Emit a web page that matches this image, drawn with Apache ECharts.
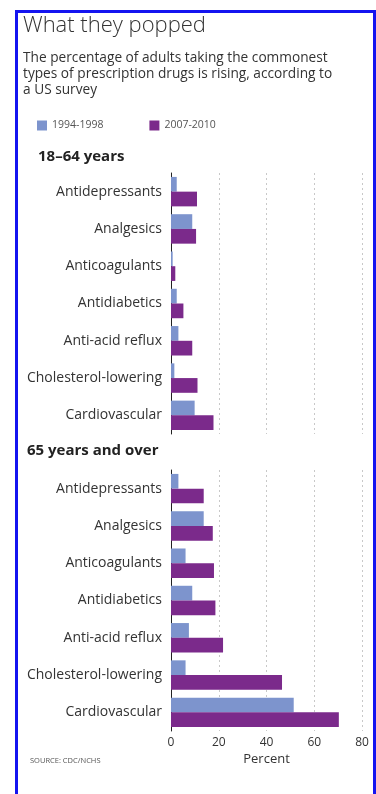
<!DOCTYPE html>
<html>
<head>
<meta charset="utf-8">
<script src="https://cdn.jsdelivr.net/npm/echarts@6/dist/echarts.min.js"></script>
<style>
  html, body { margin: 0; padding: 0; background: #fff; }
  #chart { width: 376px; height: 794px; }
  #frame {
    position: absolute; left: 15px; top: 10px; width: 355px; height: 800px;
    border: 3px solid #1414f0; pointer-events: none;
  }
</style>
</head>
<body>
<div id="chart"></div>
<div id="frame"></div>
<script>
const categories = ['Antidepressants', 'Analgesics', 'Anticoagulants', 'Antidiabetics', 'Anti-acid reflux', 'Cholesterol-lowering', 'Cardiovascular']
const periods = ['1994-1998', '2007-2010']
// 18-64 years
const young1994 = [2.4, 8.9, 0.7, 2.4, 3.1, 1.4, 9.9]
const young2007 = [10.9, 10.5, 1.8, 5.2, 8.9, 11.1, 17.8]
// 65 years and over
const old1994 = [3.1, 13.7, 6.1, 8.9, 7.5, 6.1, 51.4]
const old2007 = [13.7, 17.5, 18.0, 18.6, 21.8, 46.5, 70.3]
const xTicks = [0, 20, 40, 60, 80]

const blue = '#7d94cd'
const purple = '#7b2a8b'
const font = 'Open Sans'

const chart = echarts.init(document.getElementById('chart'))

function valueAxis(gridIndex, showLabels) {
  return {
    type: 'value',
    gridIndex: gridIndex,
    min: xTicks[0],
    max: xTicks[xTicks.length - 1],
    interval: 20,
    axisLine: { show: false },
    axisTick: { show: false },
    splitLine: { show: true, lineStyle: { type: [2, 3], color: '#c8c8c8', width: 1 } },
    axisLabel: { show: showLabels, color: '#333', fontSize: 12, fontFamily: font, margin: 6 },
    name: showLabels ? 'Percent' : '',
    nameLocation: 'middle',
    nameGap: 22,
    nameTextStyle: { color: '#333', fontSize: 13, fontFamily: font }
  }
}

function categoryAxis(gridIndex) {
  return {
    type: 'category',
    gridIndex: gridIndex,
    data: categories,
    inverse: true,
    axisLine: { show: true, lineStyle: { color: '#222', width: 1 } },
    axisTick: { show: false },
    axisLabel: { color: '#333', fontSize: 14, fontFamily: font, margin: 9 }
  }
}

function barSeries(name, axisIndex, values, color) {
  return {
    name: name,
    type: 'bar',
    xAxisIndex: axisIndex,
    yAxisIndex: axisIndex,
    data: values,
    barGap: '0%',
    barCategoryGap: '21%',
    itemStyle: { color: color },
    silent: true
  }
}

const option = {
  animation: false,
  title: [
    {
      text: 'What they popped',
      left: 18, top: 10,
      textStyle: { fontSize: 22, fontWeight: 300, color: '#333', fontFamily: font }
    },
    {
      text: 'The percentage of adults taking the commonest\ntypes of prescription drugs is rising, according to\na US survey',
      left: 18, top: 45,
      textStyle: { fontSize: 13.7, fontWeight: 'normal', color: '#333', fontFamily: font, lineHeight: 16 }
    },
    {
      text: '18–64 years',
      left: 33, top: 144,
      textStyle: { fontSize: 15, fontWeight: 'bold', color: '#222', fontFamily: font }
    },
    {
      text: '65 years and over',
      left: 22, top: 438,
      textStyle: { fontSize: 15, fontWeight: 'bold', color: '#222', fontFamily: font }
    },
    {
      text: 'SOURCE: CDC/NCHS',
      left: 25, top: 752,
      textStyle: { fontSize: 7.5, fontWeight: 'normal', color: '#555', fontFamily: font }
    }
  ],
  legend: {
    data: periods,
    left: 32, top: 115,
    icon: 'rect',
    itemWidth: 10, itemHeight: 10,
    itemGap: 46,
    selectedMode: false,
    textStyle: { color: '#555', fontSize: 10.5, fontFamily: font }
  },
  grid: [
    { left: 171, right: 14, top: 173, height: 261 },
    { left: 171, right: 14, top: 470, height: 261 }
  ],
  xAxis: [valueAxis(0, false), valueAxis(1, true)],
  yAxis: [categoryAxis(0), categoryAxis(1)],
  series: [
    barSeries(periods[0], 0, young1994, blue),
    barSeries(periods[1], 0, young2007, purple),
    barSeries(periods[0], 1, old1994, blue),
    barSeries(periods[1], 1, old2007, purple)
  ]
}

chart.setOption(option)
window.onresize = () => {
  chart.resize()
}
</script>
</body>
</html>
